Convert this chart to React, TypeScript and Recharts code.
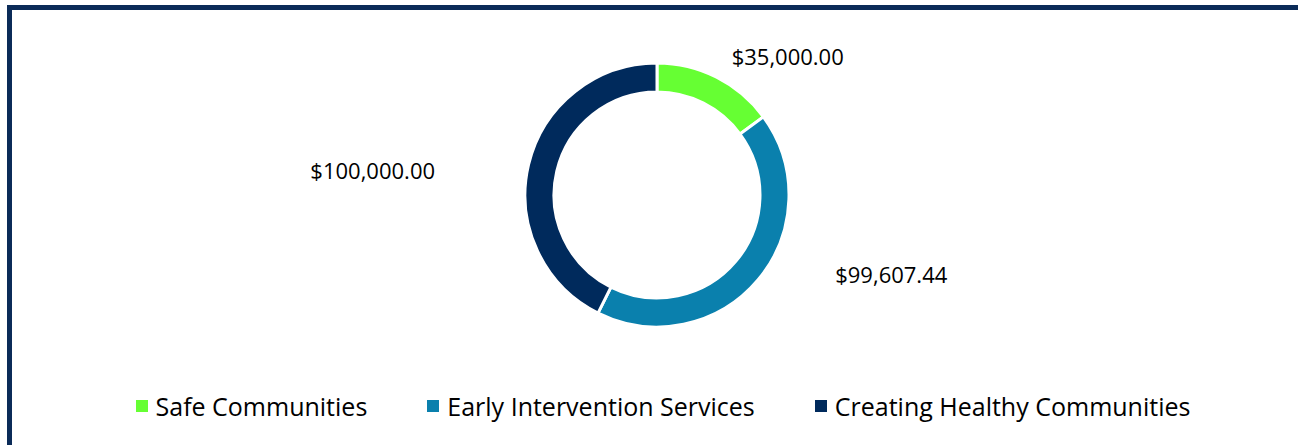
import React from 'react';
import { PieChart, Pie, Cell, Legend } from 'recharts';

const CATEGORIES = ['Safe Communities', 'Early Intervention Services', 'Creating Healthy Communities'];
const AMOUNTS = [35000, 99607.44, 100000];

const COLORS = [
  '#66ff33', // Green
  '#0a80ad', // Blue
  '#002a5c', // Navy
];

// label nudges from the radial anchor, so labels sit where the original put them
const LABEL_NUDGE = [
  { dx: 6, dy: -3 },
  { dx: 62, dy: -19 },
  { dx: -74, dy: 10 },
];

const data = CATEGORIES.map((name, i) => ({ name, value: AMOUNTS[i] }));

const money = (v: number) =>
  '$' + v.toLocaleString('en-US', { minimumFractionDigits: 2, maximumFractionDigits: 2 });

const RADIAN = Math.PI / 180;
const renderLabel = ({ cx, cy, midAngle, outerRadius, value, index }: any) => {
  const r = outerRadius + 20;
  const nudge = LABEL_NUDGE[index] || { dx: 0, dy: 0 };
  const x = cx + r * Math.cos(-midAngle * RADIAN) + nudge.dx;
  const y = cy + r * Math.sin(-midAngle * RADIAN) + nudge.dy;
  return (
    <text
      x={x}
      y={y}
      fill="#000"
      fontSize={22}
      textAnchor={x > cx ? 'start' : 'end'}
      dominantBaseline="central"
    >
      {money(value)}
    </text>
  );
};

const renderLegend = () => (
  <div style={{ display: 'flex', justifyContent: 'center', gap: 60, fontSize: 25, color: '#000', paddingLeft: 28 }}>
    {CATEGORIES.map((name, i) => (
      <div key={name} style={{ display: 'flex', alignItems: 'center' }}>
        <span style={{ width: 12, height: 12, background: COLORS[i], marginRight: 8, display: 'inline-block' }} />
        <span>{name}</span>
      </div>
    ))}
  </div>
);

export default function App() {
  return (
    <div style={{ position: 'fixed', left: 0, top: 0, width: 1298, height: 445, background: '#fff', overflow: 'hidden', fontFamily: '"Open Sans", sans-serif' }}>
      <div style={{ position: 'absolute', left: 7, top: 5, width: 1320, height: 480, border: '5px solid #0b2b58', boxSizing: 'border-box' }} />
      <PieChart
        width={1298}
        height={445}
        margin={{ top: 0, right: 0, bottom: 0, left: 0 }}
        style={{ position: 'absolute', left: 0, top: 0 }}
      >
        <Pie
          data={data}
          dataKey="value"
          cx={657}
          cy={195}
          innerRadius={103}
          outerRadius={132}
          startAngle={90}
          endAngle={-270}
          stroke="#fff"
          strokeWidth={3}
          labelLine={false}
          label={renderLabel}
          isAnimationActive={false}
        >
          {data.map((entry, index) => (
            <Cell key={`cell-${index}`} fill={COLORS[index % COLORS.length]} />
          ))}
        </Pie>
        <Legend
          verticalAlign="bottom"
          content={renderLegend}
          wrapperStyle={{ bottom: 22 }}
        />
      </PieChart>
    </div>
  );
}
